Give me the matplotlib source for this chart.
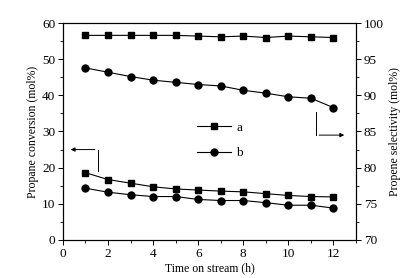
import numpy as np
import matplotlib.pyplot as plt
from matplotlib.ticker import MultipleLocator

plt.rcParams['font.family'] = ['Liberation Serif', 'DejaVu Serif']
plt.rcParams['font.size'] = 8.5

hours = [1, 2, 3, 4, 5, 6, 7, 8, 9, 10, 11, 12]
conv_a = [18.6, 16.7, 15.7, 14.7, 14.1, 13.8, 13.5, 13.3, 12.8, 12.3, 12.0, 11.9]
conv_b = [14.3, 13.2, 12.5, 12.0, 12.0, 11.2, 10.9, 10.9, 10.3, 9.6, 9.6, 8.8]
sel_a = [98.3, 98.3, 98.3, 98.3, 98.3, 98.2, 98.1, 98.2, 98.0, 98.2, 98.1, 98.0]
sel_b = [93.8, 93.2, 92.6, 92.1, 91.8, 91.5, 91.3, 90.7, 90.3, 89.8, 89.6, 88.3]

fig = plt.figure(figsize=(4.14, 2.78), dpi=100)
ax = fig.add_axes([0.152, 0.137, 0.708, 0.780])
ax2 = ax.twinx()

lw = 0.8
ms = 5
ax.plot(hours, conv_a, '-s', color='black', lw=lw, ms=ms, label='a')
ax.plot(hours, conv_b, '-o', color='black', lw=lw, ms=ms, label='b')
ax2.plot(hours, sel_a, '-s', color='black', lw=lw, ms=ms)
ax2.plot(hours, sel_b, '-o', color='black', lw=lw, ms=ms)

ax.set_xlim(0, 13)
ax.set_ylim(0, 60)
ax2.set_ylim(70, 100)
ax.xaxis.set_major_locator(MultipleLocator(2))
ax.xaxis.set_minor_locator(MultipleLocator(1))
ax.yaxis.set_major_locator(MultipleLocator(10))
ax.yaxis.set_minor_locator(MultipleLocator(5))
ax2.yaxis.set_major_locator(MultipleLocator(5))
ax2.yaxis.set_minor_locator(MultipleLocator(2.5))

for a in (ax, ax2):
    a.tick_params(which='major', direction='out', length=3.5, width=0.7, pad=2,
                  labelsize=9.5)
    a.tick_params(which='minor', direction='out', length=2, width=0.6)
    for s in a.spines.values():
        s.set_linewidth(0.8)
ax.tick_params(top=False, which='both')

ax.set_xlabel('Time on stream (h)', labelpad=2)
ax.set_ylabel('Propane conversion (mol%)', labelpad=2)
ax2.set_ylabel('Propene selectivity (mol%)', labelpad=4)

# arrows pointing to the axes
ax.plot([1.54, 1.54], [19.0, 25.0], color='black', lw=0.7)
ax.annotate('', xy=(0.22, 25.0), xytext=(1.54, 25.0),
            arrowprops=dict(arrowstyle='-|>', color='black', lw=0.7, mutation_scale=6))
ax.plot([11.24, 11.24], [35.4, 29.0], color='black', lw=0.7)
ax.annotate('', xy=(12.6, 29.0), xytext=(11.24, 29.0),
            arrowprops=dict(arrowstyle='-|>', color='black', lw=0.7, mutation_scale=6))

ax.legend(loc='upper left', bbox_to_anchor=(0.457, 0.545), frameon=False,
          borderpad=0, borderaxespad=0, handlelength=2.6, handletextpad=0.4,
          labelspacing=1.0, fontsize=9.5)

fig.savefig('out.png', dpi=100)
